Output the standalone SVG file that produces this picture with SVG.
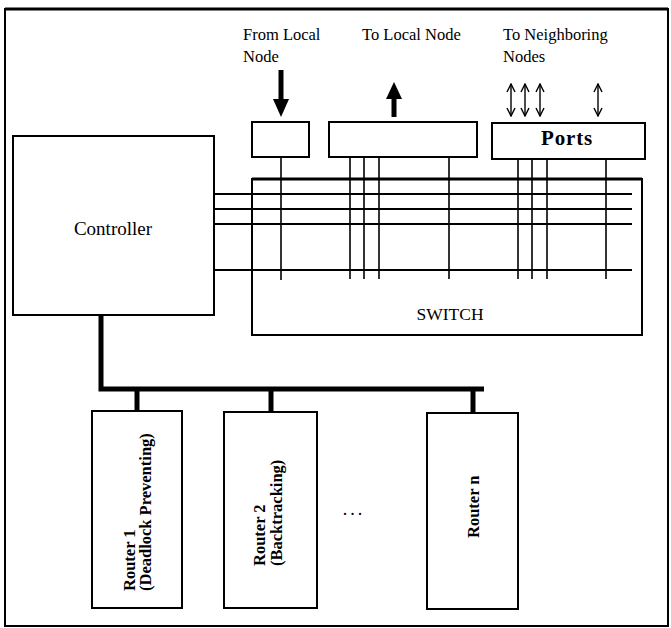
<svg xmlns="http://www.w3.org/2000/svg" width="671" height="628" viewBox="0 0 671 628">
<defs>
<style>
.box{fill:#fff;stroke:#000;stroke-width:2}
.t{font-family:"Liberation Serif","Times New Roman",serif;fill:#000}
.lbl{font-size:16.5px}
.rt{font-size:16.5px;font-weight:bold}
.h{stroke:#000;stroke-width:2;fill:none}
.v{stroke:#000;stroke-width:1.6;fill:none}
.bus{stroke:#000;stroke-width:5;fill:none}
.dbl{stroke:#000;stroke-width:1.4;fill:none;marker-start:url(#chev);marker-end:url(#chev)}
</style>
<marker id="chev" viewBox="0 0 10 10" refX="9" refY="5" markerWidth="10" markerHeight="10" markerUnits="userSpaceOnUse" orient="auto-start-reverse">
<path d="M1,1 L9,5 L1,9" fill="none" stroke="#000" stroke-width="1.4"/>
</marker>
</defs>
<rect width="671" height="628" fill="#fff"/>
<g id="frame">
<path d="M5,626 L5,9 L668,9 L668,626 Z" fill="none" stroke="#000" stroke-width="2"/>
<line x1="5" y1="9" x2="668" y2="9" stroke="#000" stroke-width="3"/>
</g>
<g id="labels">
<text class="t lbl" x="243" y="40">From Local</text>
<text class="t lbl" x="243" y="62">Node</text>
<text class="t lbl" x="362" y="40">To Local Node</text>
<text class="t lbl" x="503" y="40">To Neighboring</text>
<text class="t lbl" x="503" y="62">Nodes</text>
</g>
<g id="connectors">
<line x1="281" y1="70" x2="281" y2="102" stroke="#000" stroke-width="5"/>
<polygon points="273,99 289,99 281,117" fill="#000"/>
<line x1="394" y1="117" x2="394" y2="95" stroke="#000" stroke-width="5"/>
<polygon points="386,99 402,99 394,82" fill="#000"/>
<line class="dbl" x1="511" y1="84" x2="511" y2="116"/>
<line class="dbl" x1="525" y1="84" x2="525" y2="116"/>
<line class="dbl" x1="540" y1="84" x2="540" y2="116"/>
<line class="dbl" x1="598" y1="84" x2="598" y2="116"/>
<line class="h" x1="214" y1="194" x2="632" y2="194"/>
<line class="h" x1="214" y1="209" x2="632" y2="209"/>
<line class="h" x1="214" y1="224" x2="632" y2="224"/>
<line class="h" x1="214" y1="270" x2="632" y2="270"/>
<line class="v" x1="281" y1="157" x2="281" y2="280"/>
<line class="v" x1="350" y1="157" x2="350" y2="279"/>
<line class="v" x1="364" y1="157" x2="364" y2="279"/>
<line class="v" x1="379" y1="157" x2="379" y2="279"/>
<line class="v" x1="449" y1="157" x2="449" y2="279"/>
<line class="v" x1="518" y1="159" x2="518" y2="279"/>
<line class="v" x1="532" y1="159" x2="532" y2="279"/>
<line class="v" x1="547" y1="159" x2="547" y2="279"/>
<line class="v" x1="606" y1="159" x2="606" y2="279"/>
<path class="bus" d="M101,315 L101,389 L484,389" stroke-width="4.5"/>
<line class="bus" x1="137" y1="389" x2="137" y2="411"/>
<line class="bus" x1="271" y1="389" x2="271" y2="412"/>
<line class="bus" x1="473" y1="389" x2="473" y2="413"/>
</g>
<g id="input-buffer"><rect class="box" x="252" y="122" width="57" height="35"/></g>
<g id="output-buffer"><rect class="box" x="329" y="122" width="148" height="35"/></g>
<g id="ports">
<rect class="box" x="492" y="123" width="153" height="36"/>
<text class="t" x="567" y="145" font-size="21" font-weight="bold" text-anchor="middle" letter-spacing="0.8">Ports</text>
</g>
<g id="switch">
<path d="M252,335 L252,179 L642,179 L642,335 Z" fill="none" stroke="#000" stroke-width="2"/>
<line x1="252" y1="179" x2="642" y2="179" stroke="#000" stroke-width="3"/>
<text class="t" x="450" y="320" font-size="17.5" text-anchor="middle">SWITCH</text>
</g>
<g id="controller">
<rect class="box" x="13" y="136" width="201" height="179" fill="none"/>
<text class="t" x="113" y="235" font-size="19" text-anchor="middle">Controller</text>
</g>
<g id="router1">
<rect class="box" x="92" y="411" width="90" height="197"/>
<text class="t rt" transform="translate(135,591) rotate(-90)">Router 1<tspan x="0" dy="16">(Deadlock Preventing)</tspan></text>
</g>
<g id="router2">
<rect class="box" x="224" y="412" width="93" height="196"/>
<text class="t rt" transform="translate(265,566) rotate(-90)">Router 2<tspan x="0" dy="17">(Backtracking)</tspan></text>
</g>
<g id="ellipsis">
<text class="t" x="354" y="515" font-size="18" text-anchor="middle" letter-spacing="3">...</text>
</g>
<g id="routern">
<rect class="box" x="427" y="413" width="91" height="196"/>
<text class="t rt" transform="translate(479,538) rotate(-90)">Router n</text>
</g>
</svg>
